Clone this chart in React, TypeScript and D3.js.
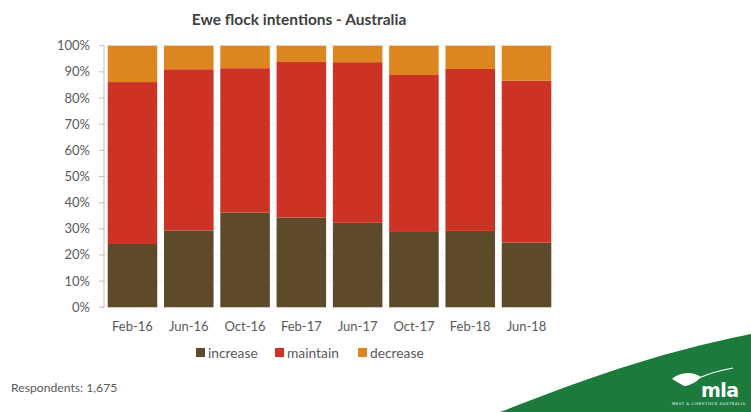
import React from "react";
import * as d3 from "d3";

const categories = ["Feb-16", "Jun-16", "Oct-16", "Feb-17", "Jun-17", "Oct-17", "Feb-18", "Jun-18"];
const increase = [24.2, 29.4, 36.2, 34.3, 32.3, 28.8, 29.2, 24.7];
const maintain = [61.9, 61.6, 55.2, 59.5, 61.4, 60.0, 61.9, 61.9];
const decrease = [13.9, 9.0, 8.6, 6.2, 6.3, 11.2, 8.9, 13.4];
const seriesNames = ["increase", "maintain", "decrease"];
const seriesColors = ["#5c4a28", "#cc3324", "#dd861f"];
const yTicks = [0, 10, 20, 30, 40, 50, 60, 70, 80, 90, 100];

const W = 751;
const H = 412;
const FONT = "Lato, 'Open Sans', sans-serif";

export default function App() {
  const x = d3.scaleBand<string>().domain(categories).range([104, 555]).paddingInner(0.12).paddingOuter(0.066);
  const y = d3.scaleLinear().domain([0, 100]).range([307.3, 45.7]);
  const rows = categories.map((c, i) => ({ cat: c, increase: increase[i], maintain: maintain[i], decrease: decrease[i] }));
  const stack = d3.stack<any>().keys(seriesNames);
  const layers = stack(rows);

  const legendItems = [
    { name: "increase", sx: 196, tx: 208 },
    { name: "maintain", sx: 275, tx: 287 },
    { name: "decrease", sx: 358, tx: 370 },
  ];

  return (
    <svg width={W} height={H} style={{ position: "absolute", left: 0, top: 0, background: "#fff" }} fontFamily={FONT}>
      <rect x={0} y={0} width={W} height={H} fill="#fff" />
      <text x={299} y={25} textAnchor="middle" fontSize={15.5} fontWeight={700} fill="#404040">
        Ewe flock intentions - Australia
      </text>
      {yTicks.map((t) => (
        <g key={t}>
          {t > 0 && <line x1={104} x2={553} y1={y(t)} y2={y(t)} stroke="#f0f0f0" strokeWidth={1} />}
          <line x1={99} x2={104} y1={y(t)} y2={y(t)} stroke="#bfbfbf" strokeWidth={1} />
          <text x={90} y={y(t) + 4.5} textAnchor="end" fontSize={13} fill="#595959">
            {t + "%"}
          </text>
        </g>
      ))}
      {layers.map((layer, li) => (
        <g key={layer.key} fill={seriesColors[li]}>
          {layer.map((d, i) => (
            <rect key={i} x={x(categories[i])} width={x.bandwidth()} y={y(d[1])} height={y(d[0]) - y(d[1])} />
          ))}
        </g>
      ))}
      <line x1={104} x2={104} y1={45.7} y2={307.3} stroke="#bfbfbf" strokeWidth={1} />
      {categories.map((c) => (
        <text key={c} x={(x(c) as number) + x.bandwidth() / 2} y={331} textAnchor="middle" fontSize={13} fill="#595959">
          {c}
        </text>
      ))}
      {legendItems.map((l, i) => (
        <g key={l.name}>
          <rect x={l.sx} y={348} width={9} height={9} fill={seriesColors[i]} />
          <text x={l.tx} y={357.5} fontSize={13.8} fill="#595959">
            {l.name}
          </text>
        </g>
      ))}
      <text x={11} y={392} fontSize={12.2} fill="#595959">
        Respondents: 1,675
      </text>
      <path d="M 500,412 C 570,385 650,354 751,334 L 751,412 Z" fill="#1b7a3c" />
      <path d="M 672,379 C 680,372 692,371 701,377 C 696,383 688,386 684,386 C 680,384 676,381 672,379 Z" fill="#fff" />
      <path d="M 699,378 C 710,373 722,370 733,368" stroke="#fff" strokeWidth={1.2} fill="none" />
      <text x={701} y={397} fontSize={19} fontWeight={900} fill="#fff" fontFamily="'DejaVu Sans', sans-serif" letterSpacing={-0.5}>
        mla
      </text>
      <text x={672} y={405} fontSize={3.8} fill="#fff" fontFamily="'DejaVu Sans', sans-serif" textLength={73}>
        MEAT &amp; LIVESTOCK AUSTRALIA
      </text>
    </svg>
  );
}
